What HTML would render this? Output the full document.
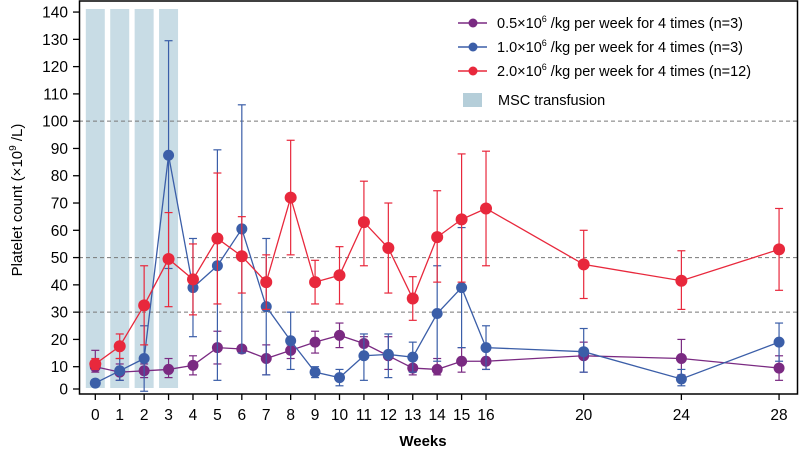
<!DOCTYPE html>
<html><head><style>body{margin:0;background:#fff}svg{display:block;font-family:"Liberation Sans",Arial,sans-serif}</style></head>
<body>
<svg id="s" width="800" height="455" xmlns="http://www.w3.org/2000/svg"></svg>
<script>
const s=document.getElementById('s');
const X=w=>95.3+w*24.42, Y=v=>366.7-(v-10)*2.728;
let h='';
for(let w=0;w<4;w++)h+=`<rect x="${X(w)-9.5}" y="9" width="19" height="379" fill="#c8dce5"/>`;
[30,50,100].forEach(v=>h+=`<line x1="79" x2="797" y1="${Y(v)}" y2="${Y(v)}" stroke="#777" stroke-dasharray="4,3" stroke-width="1"/>`);
h+=`<rect x="79.5" y="1" width="718" height="393" fill="none" stroke="#000" stroke-width="1.5"/>`;
for(let v=0;v<=140;v+=10){const y=v==0?389:Y(v);h+=`<line x1="73" x2="79" y1="${y}" y2="${y}" stroke="#000" stroke-width="1.3"/><text x="68" y="${y+5.5}" font-size="15.5" text-anchor="end">${v}</text>`;}
const weeks=[0,1,2,3,4,5,6,7,8,9,10,11,12,13,14,15,16,20,24,28];
weeks.forEach(w=>h+=`<line x1="${X(w)}" x2="${X(w)}" y1="394" y2="400" stroke="#000" stroke-width="1.3"/><text x="${X(w)}" y="420" font-size="15.5" text-anchor="middle">${w}</text>`);
h+=`<text x="423" y="446" font-size="15" font-weight="bold" text-anchor="middle">Weeks</text>`;
h+=`<text transform="translate(22,200) rotate(-90)" font-size="15" text-anchor="middle">Platelet count (×10<tspan font-size="10" dy="-6">9</tspan><tspan dy="6"> /L)</tspan></text>`;
const P=[[10,8,16],[8,5,11],[8.5,6,11],[9,6,13],[10.5,7,14],[17,11,23],[16.5,16,17],[13,7,18],[16,13,18],[19,15,23],[21.5,17,26],[18.5,15,21],[14,9,21],[9.5,7,13],[9,7,13],[12,8,17],[12,9,16],[14,8,19],[13,7,20],[9.5,5,14]];
const B=[[4,3,5],[8.5,5,13],[13,1,25],[87.5,46,129.5],[39,21,57],[47,5,89.5],[60.5,15,106],[32,7,57],[19.5,9,30],[8,6,10],[6,3,9],[14,5,22],[14.5,6,22],[13.5,8,19],[29.5,12,47],[39,17,61],[17,9,25],[15.5,8,24],[5.5,3,9],[19,12,26]];
const R=[[11,9,13],[17.5,13,22],[32.5,18,47],[49.5,32,66.5],[42,29,55],[57,33,81],[50.5,37,65],[41,31,51],[72,51,93],[41,33,49],[43.5,33,54],[63,47,78],[53.5,37,70],[35,27,43],[57.5,41,74.5],[64,41,88],[68,47,89],[47.5,35,60],[41.5,31,52.5],[53,38,68]];
function ser(d,c,r){let o='';d.forEach((p,i)=>{const x=X(weeks[i]);o+=`<line x1="${x}" x2="${x}" y1="${Y(p[1])}" y2="${Y(p[2])}" stroke="${c}" stroke-width="1.2"/><line x1="${x-4}" x2="${x+4}" y1="${Y(p[1])}" y2="${Y(p[1])}" stroke="${c}" stroke-width="1.2"/><line x1="${x-4}" x2="${x+4}" y1="${Y(p[2])}" y2="${Y(p[2])}" stroke="${c}" stroke-width="1.2"/>`;});
o+=`<polyline fill="none" stroke="${c}" stroke-width="1.3" points="${d.map((p,i)=>X(weeks[i])+','+Y(p[0])).join(' ')}"/>`;
d.forEach((p,i)=>o+=`<circle cx="${X(weeks[i])}" cy="${Y(p[0])}" r="${r}" fill="${c}"/>`);return o;}
h+=ser(P,'#7a2a82',5.5)+ser(B,'#3b5ea8',5.5)+ser(R,'#e8283c',6);
const L=[['#7a2a82','0.5','(n=3)'],['#3b5ea8','1.0','(n=3)'],['#e8283c','2.0','(n=12)']];
L.forEach((l,i)=>{const y=23+i*24;h+=`<line x1="458" x2="487" y1="${y}" y2="${y}" stroke="${l[0]}" stroke-width="1.5"/><circle cx="473" cy="${y}" r="4.5" fill="${l[0]}"/><text x="497" y="${y+5}" font-size="14.5">${l[1]}×10<tspan font-size="9" dy="-6">6</tspan><tspan dy="6"> /kg per week for 4 times ${l[2]}</tspan></text>`;});
h+=`<rect x="463" y="93" width="19" height="14" fill="#b5ced9"/><text x="498" y="105" font-size="14.5">MSC transfusion</text>`;
s.innerHTML=h;
</script>
</body></html>
